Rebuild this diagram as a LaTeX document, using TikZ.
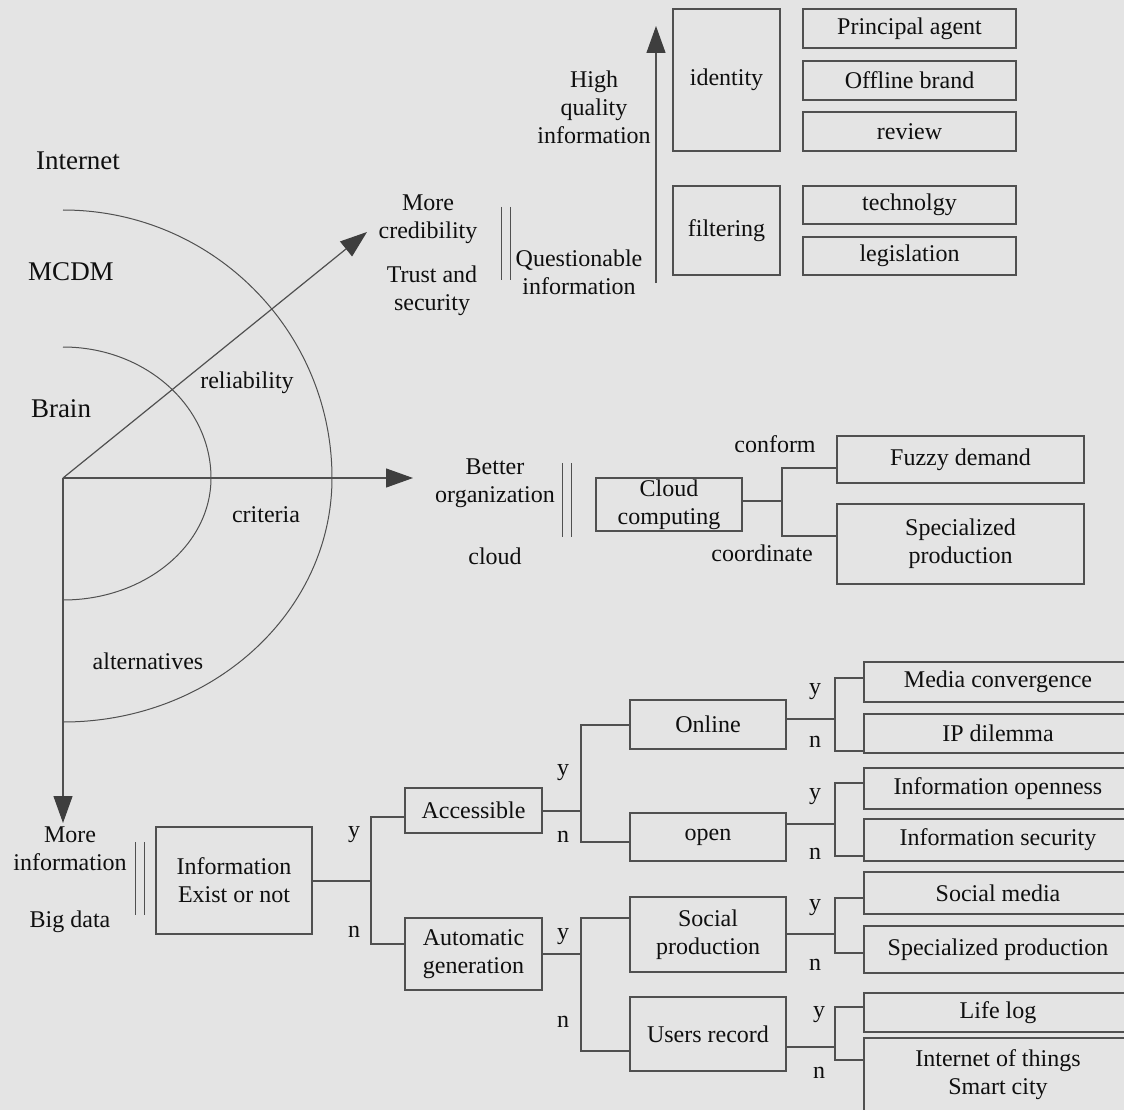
\documentclass[tikz,border=0pt]{standalone}
\usepackage{fontspec}
\setmainfont{Liberation Serif}
\usetikzlibrary{arrows.meta,calc}
\definecolor{bg}{RGB}{228,228,228}
\definecolor{ln}{RGB}{80,80,80}
\definecolor{tx}{RGB}{15,15,15}
\definecolor{ah}{RGB}{62,62,62}
\begin{document}
\begin{tikzpicture}[x=1pt,y=1pt,
  every node/.style={font=\fontsize{24}{28}\selectfont, text=tx},
  box/.style={draw=ln, line width=1.3pt, align=center, inner sep=0pt},
  lbl/.style={align=center, inner sep=0pt},
  big/.style={font=\fontsize{27}{30}\selectfont},
  conn/.style={draw=ln, line width=1.2pt},
  bar/.style={draw=ln, line width=1pt},
  arr/.style={draw=ln, line width=1.2pt, -{Triangle[length=27pt,width=19pt,color=ah]}},
  arcl/.style={draw=ln, line width=1pt}]
\useasboundingbox (0,0) rectangle (1124,-1110);
\clip (0,0) rectangle (1124,-1110);
\fill[bg] (0,0) rectangle (1124,-1110);

% ---------- left semicircle diagram ----------
\coordinate (O) at (63,-478);
\coordinate (tipD) at (367,-232);
\coordinate (tipH) at (413,-478);
\coordinate (tipV) at (63,-823);
\draw[arcl] (63,-210) arc[start angle=90,end angle=0,x radius=269,y radius=268]
                      arc[start angle=0,end angle=-90,x radius=269,y radius=244];
\draw[arcl] (63,-347) arc[start angle=90,end angle=0,x radius=148,y radius=131]
                      arc[start angle=0,end angle=-90,x radius=148,y radius=122];
\draw[arr] (O) -- (tipD);
\draw[arr] (O) -- (tipH);
\draw[arr] (O) -- (tipV);
\node[lbl, big] (internet) at (78,-161) {Internet};
\node[lbl, big] (mcdm) at (71,-272) {MCDM};
\node[lbl, big] (brain) at (61,-409) {Brain};
\node[lbl] (reli) at (247,-383) {reliability};
\node[lbl] (crit) at (266,-515) {criteria};
\node[lbl] (alts) at (148,-661) {alternatives};

% ---------- top: credibility ----------
\node[lbl] (morecred) at (428,-219) {More\\credibility};
\node[lbl] (trust) at (432,-291) {Trust and\\security};
\draw[bar] (501,-207) -- (501,-280);
\draw[bar] (510,-207) -- (510,-280);
\node[lbl] (quest) at (579,-272.5) {Questionable\\information};
\node[lbl] (hq) at (594,-107) {High\\quality\\information};
\coordinate (upS) at (656,-283);
\coordinate (upT) at (656,-26);
\draw[arr] (upS) -- (upT);
\node[box, minimum width=107pt, minimum height=142pt] (identity) at (726.5,-80) {identity};
\node[box, minimum width=107pt, minimum height=89pt] (filtering) at (726.5,-230.5) {filtering};
\node[box, minimum width=213pt, minimum height=39pt] (principal) at (909.5,-28.5) {Principal agent};
\node[box, minimum width=213pt, minimum height=39pt] (offline) at (909.5,-80.5) {Offline brand};
\node[box, minimum width=213pt, minimum height=39pt] (review) at (909.5,-131.5) {review};
\node[box, minimum width=213pt, minimum height=38pt] (techno) at (909.5,-205) {technolgy};
\node[box, minimum width=213pt, minimum height=38pt] (legis) at (909.5,-256) {legislation};

% ---------- middle: cloud ----------
\node[lbl] (better) at (495,-483.5) {Better\\organization};
\node[lbl] (cloud) at (495,-556) {cloud};
\draw[bar] (562,-463) -- (562,-537);
\draw[bar] (571,-463) -- (571,-537);
\node[box, minimum width=146pt, minimum height=53pt] (cc) at (669,-504.5) {Cloud\\computing};
\node[box, minimum width=247pt, minimum height=47pt] (fuzzy) at (960.5,-459.5) {Fuzzy demand};
\node[box, minimum width=247pt, minimum height=80pt] (specA) at (960.5,-544) {Specialized\\production};
\draw[conn] (cc.east |- 0,-501) -- (782,-501) coordinate (fc);
\draw[conn] (fuzzy.west |- 0,-468) -| (fc) |- (specA.west |- 0,-536);
\node[lbl] (conform) at (775,-444) {conform};
\node[lbl] (coord) at (762,-553) {coordinate};

% ---------- bottom: information tree ----------
\node[lbl] (moreinfo) at (70,-849) {More\\information};
\node[lbl] (bigdata) at (70,-922) {Big data};
\draw[bar] (135,-842) -- (135,-915);
\draw[bar] (144,-842) -- (144,-915);
\node[box, minimum width=156pt, minimum height=107pt] (info) at (234,-880.5) {Information\\Exist or not};
\node[box, minimum width=137pt, minimum height=45pt] (acc) at (473.5,-810.5) {Accessible};
\node[box, minimum width=137pt, minimum height=72pt] (auto) at (473.5,-954) {Automatic\\generation};
\node[box, minimum width=156pt, minimum height=49pt] (online) at (708,-724.5) {Online};
\node[box, minimum width=156pt, minimum height=48pt] (open) at (708,-837) {open};
\node[box, minimum width=156pt, minimum height=75pt] (social) at (708,-934.5) {Social\\production};
\node[box, minimum width=156pt, minimum height=74pt] (users) at (708,-1034) {Users record};
\node[box, minimum width=268pt, minimum height=40pt] (media) at (998,-682) {Media convergence};
\node[box, minimum width=268pt, minimum height=39pt] (ip) at (998,-733.5) {IP dilemma};
\node[box, minimum width=268pt, minimum height=41pt] (iopen) at (998,-788.5) {Information openness};
\node[box, minimum width=268pt, minimum height=42pt] (isec) at (998,-840) {Information security};
\node[box, minimum width=268pt, minimum height=42pt] (smedia) at (998,-893) {Social media};
\node[box, minimum width=268pt, minimum height=47pt] (specB) at (998,-949.5) {Specialized production};
\node[box, minimum width=268pt, minimum height=39pt] (lifelog) at (998,-1012.5) {Life log};
\node[box, minimum width=268pt, minimum height=87pt] (iot) at (998,-1081.5) {};
\node[lbl] (iottext) at (998,-1074.5) {Internet of things\\Smart city};

% forks
\draw[conn] (info.east |- 0,-881) -- (371,-881) coordinate (f1);
\draw[conn] (acc.west |- 0,-817) -| (f1) |- (auto.west |- 0,-944);
\draw[conn] (acc.east |- 0,-811) -- (581,-811) coordinate (f2);
\draw[conn] (online.west |- 0,-725) -| (f2) |- (open.west |- 0,-842);
\draw[conn] (auto.east |- 0,-954) -- (581,-954) coordinate (f3);
\draw[conn] (social.west |- 0,-918) -| (f3) |- (users.west |- 0,-1051);
\draw[conn] (online.east |- 0,-719) -- (835,-719) coordinate (f4);
\draw[conn] (media.west |- 0,-678) -| (f4) |- (ip.west |- 0,-751);
\draw[conn] (open.east |- 0,-824) -- (835,-824) coordinate (f5);
\draw[conn] (iopen.west |- 0,-783) -| (f5) |- (isec.west |- 0,-856);
\draw[conn] (social.east |- 0,-934) -- (835,-934) coordinate (f6);
\draw[conn] (smedia.west |- 0,-898) -| (f6) |- (specB.west |- 0,-953);
\draw[conn] (users.east |- 0,-1047) -- (835,-1047) coordinate (f7);
\draw[conn] (lifelog.west |- 0,-1007) -| (f7) |- (iot.west |- 0,-1060);

% y / n labels
\node[lbl] at (354,-835) {y};
\node[lbl] at (354,-932) {n};
\node[lbl] at (563,-773) {y};
\node[lbl] at (563,-837) {n};
\node[lbl] at (563,-937) {y};
\node[lbl] at (563,-1022) {n};
\node[lbl] at (815,-692) {y};
\node[lbl] at (815,-742) {n};
\node[lbl] at (815,-797) {y};
\node[lbl] at (815,-854) {n};
\node[lbl] at (815,-908) {y};
\node[lbl] at (815,-965) {n};
\node[lbl] at (819,-1015) {y};
\node[lbl] at (819,-1073) {n};
\end{tikzpicture}
\end{document}
